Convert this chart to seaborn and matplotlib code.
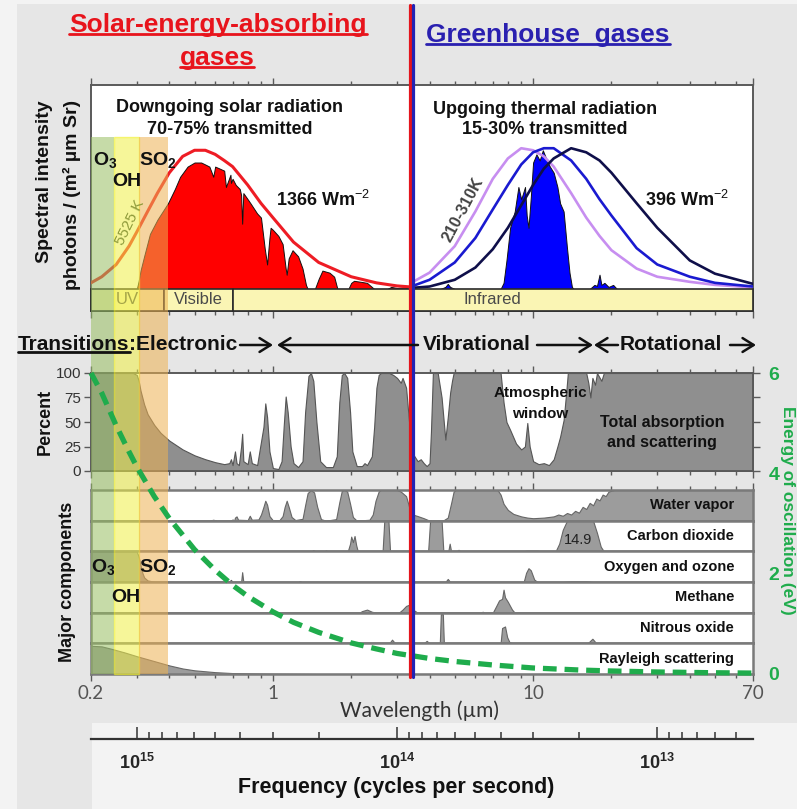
import numpy as np
import pandas as pd
import matplotlib
matplotlib.use("Agg")
import matplotlib.pyplot as plt
import seaborn as sns
from matplotlib.patches import Rectangle, FancyArrowPatch
from matplotlib.lines import Line2D
from matplotlib.ticker import FixedLocator, FixedFormatter, NullFormatter
from matplotlib.transforms import blended_transform_factory

# ---------------- data ----------------
# 5525 K black-body envelope (normalised photon intensity)
bb_lam = [0.2, 0.22, 0.25, 0.28, 0.3, 0.33, 0.36, 0.4, 0.45, 0.5, 0.55, 0.6, 0.65, 0.7, 0.8, 0.9, 1.0, 1.2, 1.5, 2.0, 2.5, 3.0, 3.38]
bb_val = [0.03, 0.06, 0.12, 0.21, 0.28, 0.38, 0.47, 0.57, 0.65, 0.68, 0.68, 0.66, 0.63, 0.6, 0.51, 0.42, 0.35, 0.23, 0.13, 0.06, 0.03, 0.015, 0.01]
# transmitted solar radiation
sol_lam = [0.30, 0.305, 0.31, 0.32, 0.337, 0.36, 0.395, 0.42, 0.44, 0.47, 0.5, 0.53, 0.55, 0.57, 0.59, 0.6, 0.625, 0.65, 0.66, 0.687, 0.69, 0.7, 0.72, 0.746, 0.755, 0.762, 0.77, 0.79, 0.82, 0.87, 0.9, 0.93, 0.95, 0.97, 0.98, 1.0, 1.05, 1.09, 1.12, 1.13, 1.15, 1.19, 1.25, 1.3, 1.34, 1.36, 1.45, 1.5, 1.55, 1.65, 1.72, 1.77, 1.95, 2.0, 2.05, 2.18, 2.3, 2.4, 2.45, 2.75, 2.85, 3.0, 3.2, 3.35]
sol_val = [0.0, 0.04, 0.09, 0.16, 0.27, 0.34, 0.42, 0.49, 0.55, 0.6, 0.62, 0.62, 0.61, 0.6, 0.55, 0.6, 0.59, 0.58, 0.5, 0.56, 0.52, 0.54, 0.51, 0.49, 0.46, 0.32, 0.47, 0.45, 0.42, 0.37, 0.35, 0.2, 0.12, 0.25, 0.3, 0.29, 0.26, 0.22, 0.1, 0.07, 0.15, 0.19, 0.16, 0.1, 0.02, 0.0, 0.0, 0.05, 0.09, 0.08, 0.06, 0.0, 0.0, 0.03, 0.04, 0.035, 0.03, 0.01, 0.0, 0.0, 0.01, 0.005, 0.008, 0.0]
# thermal emission envelopes 210 K / 260 K / 310 K
th_lam = [3.4, 4, 5, 6, 7, 8, 9, 10, 11, 12, 14, 16, 18, 20, 25, 30, 40, 50, 70]
th_210 = [0.03, 0.08, 0.21, 0.38, 0.54, 0.64, 0.69, 0.68, 0.65, 0.6, 0.47, 0.35, 0.26, 0.19, 0.1, 0.06, 0.035, 0.02, 0.008]
th_260 = [0.012, 0.045, 0.13, 0.25, 0.39, 0.51, 0.61, 0.67, 0.69, 0.69, 0.63, 0.54, 0.44, 0.36, 0.2, 0.12, 0.06, 0.03, 0.012]
th_310 = [0.005, 0.012, 0.045, 0.105, 0.195, 0.3, 0.41, 0.51, 0.59, 0.64, 0.69, 0.67, 0.63, 0.57, 0.42, 0.3, 0.14, 0.075, 0.025]
# transmitted thermal radiation
tr_lam = [4.4, 4.6, 4.7, 4.8, 5.0, 7.5, 7.7, 7.9, 8.16, 8.5, 8.78, 9.0, 9.31, 9.45, 9.6, 9.8, 10.0, 10.3, 10.6, 10.9, 11.3, 11.6, 12.0, 12.4, 12.7, 13.1, 13.5, 13.8, 14.1, 14.3, 16.5, 17.2, 17.6, 18.0, 18.3, 18.8, 19.5, 20.3, 21.0]
tr_val = [0, 0.01, 0.025, 0.01, 0, 0, 0.03, 0.14, 0.3, 0.38, 0.5, 0.44, 0.5, 0.36, 0.3, 0.45, 0.62, 0.66, 0.63, 0.68, 0.63, 0.6, 0.57, 0.5, 0.42, 0.38, 0.2, 0.08, 0.01, 0, 0, 0.02, 0.015, 0.07, 0.02, 0.03, 0.01, 0.02, 0]
# total absorption and scattering (%)
tot_lam = [0.2, 0.29, 0.30, 0.305, 0.31, 0.32, 0.33, 0.35, 0.37, 0.4, 0.45, 0.5, 0.55, 0.6, 0.65, 0.68, 0.69, 0.70, 0.715, 0.725, 0.74, 0.755, 0.762, 0.77, 0.8, 0.815, 0.83, 0.87, 0.89, 0.92, 0.935, 0.95, 0.97, 1.0, 1.05, 1.08, 1.10, 1.12, 1.14, 1.17, 1.2, 1.25, 1.3, 1.33, 1.37, 1.40, 1.43, 1.47, 1.52, 1.6, 1.7, 1.76, 1.8, 1.84, 1.88, 1.93, 1.98, 2.02, 2.1, 2.2, 2.25, 2.3, 2.4, 2.45, 2.5, 2.55, 2.6, 2.8, 2.9, 3.0, 3.1, 3.15, 3.25, 3.35, 3.4, 3.5, 3.6, 3.7, 3.8, 3.9, 4.0, 4.05, 4.12, 4.3, 4.45, 4.6, 4.7, 4.8, 4.88, 4.95, 7.5, 7.7, 7.9, 8.16, 8.6, 9.0, 9.3, 9.5, 9.7, 10.0, 10.5, 11.0, 11.5, 12.0, 12.4, 12.7, 13.1, 13.4, 13.6, 16.0, 16.3, 16.6, 16.9, 17.3, 17.6, 18.3, 18.7, 70]
tot_val = [100, 100, 98, 92, 82, 68, 58, 47, 39, 31, 22, 16, 12, 9, 7, 8, 12, 6, 20, 8, 6, 25, 38, 10, 7, 20, 8, 6, 22, 45, 69, 55, 20, 3, 2, 10, 45, 76, 60, 25, 8, 4, 10, 60, 97, 100, 92, 50, 10, 4, 4, 15, 70, 98, 100, 95, 60, 20, 5, 5, 8, 6, 15, 45, 85, 98, 100, 100, 98, 95, 90, 95, 85, 45, 20, 15, 10, 12, 8, 5, 8, 40, 100, 100, 75, 32, 55, 80, 92, 100, 100, 70, 50, 42, 28, 22, 25, 49, 25, 10, 7, 8, 6, 12, 25, 35, 52, 80, 100, 100, 90, 75, 95, 88, 100, 92, 100, 100]
# major components (% within each strip)
h2o_lam = [0.2, 0.57, 0.59, 0.61, 0.69, 0.70, 0.71, 0.715, 0.725, 0.735, 0.8, 0.815, 0.83, 0.88, 0.9, 0.92, 0.935, 0.95, 0.97, 1.0, 1.06, 1.09, 1.11, 1.13, 1.15, 1.18, 1.22, 1.3, 1.33, 1.36, 1.40, 1.44, 1.48, 1.53, 1.6, 1.75, 1.8, 1.84, 1.88, 1.93, 1.98, 2.03, 2.1, 2.35, 2.42, 2.48, 2.55, 2.6, 3.0, 3.1, 3.25, 3.35, 3.45, 3.6, 3.8, 3.95, 4.1, 4.5, 4.7, 4.85, 4.95, 5.05, 7.3, 7.5, 7.7, 8.0, 8.4, 9.0, 9.5, 10.0, 11.0, 12.0, 12.5, 13.0, 13.5, 14.0, 14.5, 15.0, 15.5, 16.0, 16.5, 17.0, 17.5, 18.0, 18.5, 19.0, 19.5, 20.5, 70]
h2o_val = [0, 0, 3, 0, 0, 4, 0, 10, 14, 3, 2, 16, 3, 4, 20, 45, 65, 52, 15, 1, 2, 15, 45, 65, 45, 12, 2, 6, 50, 90, 100, 92, 45, 5, 0, 5, 60, 97, 100, 95, 55, 12, 0, 3, 20, 65, 95, 100, 100, 95, 80, 40, 20, 15, 8, 2, 0, 0, 10, 60, 95, 100, 100, 85, 55, 35, 22, 14, 10, 8, 10, 14, 20, 16, 25, 20, 32, 26, 45, 38, 58, 50, 72, 66, 85, 80, 95, 100, 100]
co2_lam = [0.2, 1.41, 1.43, 1.45, 1.58, 1.6, 1.62, 1.94, 1.98, 2.0, 2.03, 2.06, 2.09, 2.12, 2.64, 2.68, 2.78, 2.82, 3.95, 4.02, 4.45, 4.52, 4.72, 4.78, 4.84, 5.1, 5.17, 5.24, 9.2, 9.4, 10.4, 10.6, 12.2, 12.6, 13.0, 13.5, 17.0, 17.6, 18.2, 18.7, 70]
co2_val = [0, 0, 4, 0, 0, 3, 0, 0, 25, 48, 30, 50, 20, 0, 0, 100, 100, 0, 0, 100, 100, 0, 0, 25, 0, 0, 5, 0, 0, 2, 2, 0, 0, 25, 70, 100, 100, 60, 15, 0, 0]
o3_lam = [0.2, 0.30, 0.305, 0.31, 0.315, 0.32, 0.33, 0.35, 0.45, 0.6, 0.68, 0.69, 0.70, 0.755, 0.762, 0.77, 1.25, 1.27, 1.29, 4.6, 4.7, 4.8, 9.2, 9.4, 9.6, 9.8, 10.1, 10.4, 13, 14, 16, 17, 70]
o3_val = [100, 100, 82, 55, 30, 15, 5, 1, 0, 2, 2, 7, 0, 0, 32, 0, 0, 3, 0, 0, 10, 0, 0, 30, 45, 38, 8, 0, 0, 3, 3, 0, 0]
ch4_lam = [0.2, 2.15, 2.2, 2.3, 2.4, 2.5, 3.05, 3.15, 3.25, 3.32, 3.45, 3.6, 6.3, 6.4, 6.5, 7.0, 7.2, 7.4, 7.6, 7.7, 7.8, 8.0, 8.3, 8.5, 70]
ch4_val = [0, 0, 5, 10, 3, 0, 0, 10, 22, 25, 10, 0, 0, 3, 0, 0, 20, 40, 45, 75, 50, 35, 10, 0, 0]
n2o_lam = [0.2, 2.8, 2.87, 2.95, 3.8, 3.9, 4.0, 4.38, 4.42, 4.5, 4.54, 7.5, 7.6, 7.8, 7.95, 8.1, 8.3, 16.2, 16.9, 17.5, 70]
n2o_val = [0, 0, 12, 0, 0, 8, 0, 0, 95, 95, 0, 0, 50, 55, 20, 5, 0, 0, 15, 0, 0]
ray_lam = [0.2, 0.22, 0.24, 0.27, 0.3, 0.35, 0.4, 0.45, 0.5, 0.6, 0.7, 0.8, 1.0, 1.5, 70]
ray_val = [92, 90, 82, 70, 58, 42, 28, 18, 12, 6, 3, 2, 1, 0, 0]
comp_names = ["Water vapor", "Carbon dioxide", "Oxygen and ozone", "Methane", "Nitrous oxide", "Rayleigh scattering"]
# energy of oscillation (eV)
en_lam = [0.2, 0.22, 0.25, 0.28, 0.3, 0.35, 0.4, 0.5, 0.6, 0.7, 0.8, 1.0, 1.2, 1.5, 2, 2.5, 3, 4, 5, 7, 10, 15, 20, 30, 50, 70]
en_val = [6.0, 5.6, 4.95, 4.43, 4.13, 3.54, 3.1, 2.48, 2.07, 1.77, 1.55, 1.24, 1.03, 0.83, 0.62, 0.5, 0.41, 0.31, 0.25, 0.18, 0.12, 0.08, 0.06, 0.04, 0.025, 0.018]
# absorber bands (wavelength edges, um): O3 | OH | SO2
gas_edges = [0.2, 0.245, 0.305, 0.395]
gas_names = [r"$\mathbf{O_3}$", "OH", r"$\mathbf{SO_2}$"]
# spectral regions of the colour strip
reg_edges = [0.2, 0.38, 0.70, 70]
reg_names = ["UV", "Visible", "Infrared"]
wl_ticks = [0.2, 1, 10, 70]
wl_labels = ["0.2", "1", "10", "70"]
freq_major = [1e15, 1e14, 1e13]
freq_minor = [9e14, 8e14, 7e14, 6e14, 5e14, 4e14, 3e14, 2e14, 9e13, 8e13, 7e13, 6e13, 5e13, 4e13, 3e13, 2e13, 9e12, 8e12, 7e12, 6e12, 5e12]
freq_labels = [r"$\mathbf{10^{15}}$", r"$\mathbf{10^{14}}$", r"$\mathbf{10^{13}}$"]
C_UM = 2.998e14  # speed of light in um/s

# ---------------- style ----------------
sns.set_theme(style="white")
plt.rcParams["font.family"] = ["Liberation Sans", "DejaVu Sans"]
plt.rcParams["mathtext.fontset"] = "custom"
plt.rcParams["mathtext.rm"] = "Liberation Sans"
plt.rcParams["mathtext.bf"] = "Liberation Sans:bold"
plt.rcParams["mathtext.it"] = "Liberation Sans:italic"

W, H = 797, 809
fig = plt.figure(figsize=(W / 100, H / 100), dpi=100)
fig.patch.set_facecolor("#f3f3f3")

def frect(x0, y0, x1, y1):
    return [x0 / W, 1 - y1 / H, (x1 - x0) / W, (y1 - y0) / H]

def T(x, y, s, **kw):
    kw.setdefault("ha", "center")
    kw.setdefault("va", "center")
    return fig.text(x / W, 1 - y / H, s, **kw)

# background panels
fig.add_artist(Rectangle((17 / W, 1 - 723 / H), (W - 17) / W, 719 / H, transform=fig.transFigure,
                         facecolor="#e6e6e6", edgecolor="none", zorder=-5))
fig.add_artist(Rectangle((17 / W, 0), 75 / W, (H - 723) / H, transform=fig.transFigure,
                         facecolor="#e6e6e6", edgecolor="none", zorder=-5))

XL, XR = 91, 753
SPINE = "#5a5a5a"
minor_t = [0.3, 0.4, 0.5, 0.6, 0.7, 0.8, 0.9, 2, 3, 4, 5, 6, 7, 8, 9, 20, 30, 40, 50, 60]

def style_x(ax, top=False, bottom=False, labels=False):
    ax.set_xscale("log")
    ax.set_xlim(0.2, 70)
    ax.xaxis.set_major_locator(FixedLocator(wl_ticks))
    ax.xaxis.set_minor_locator(FixedLocator(minor_t))
    ax.xaxis.set_major_formatter(FixedFormatter(wl_labels) if labels else NullFormatter())
    ax.xaxis.set_minor_formatter(NullFormatter())
    ax.tick_params(axis="x", which="both", direction="out", top=top, bottom=bottom,
                   labelbottom=labels, labeltop=False, color=SPINE, width=1)
    ax.tick_params(axis="x", which="major", length=5)
    ax.tick_params(axis="x", which="minor", length=3)
    for s in ax.spines.values():
        s.set_color(SPINE)
        s.set_linewidth(1.4)

# ---------------- top panel ----------------
ax_top = fig.add_axes(frect(XL, 85, XR, 311))
ax_top.set_facecolor("white")
YB = -0.108
style_x(ax_top, top=True, bottom=True)
ax_top.set_ylim(YB, 1.0)
ax_top.set_yticks([])
ax_top.fill_between(sol_lam, sol_val, 0, color="#ff0000", edgecolor="#111111", linewidth=0.7, zorder=2)
sns.lineplot(x=bb_lam, y=bb_val, ax=ax_top, color="#ee1c24", linewidth=2.2, zorder=3)
ax_top.fill_between(tr_lam, tr_val, 0, color="#0000ff", edgecolor="#111111", linewidth=0.7, zorder=2)
sns.lineplot(x=th_lam, y=th_210, ax=ax_top, color="#c78ef0", linewidth=1.9, zorder=3)
sns.lineplot(x=th_lam, y=th_260, ax=ax_top, color="#1a1ad0", linewidth=1.9, zorder=3)
sns.lineplot(x=th_lam, y=th_310, ax=ax_top, color="#0f0f4a", linewidth=1.9, zorder=3)
for i, name in enumerate(reg_names):
    a, b = reg_edges[i], reg_edges[i + 1]
    ax_top.add_patch(Rectangle((a, YB), b - a, -YB, facecolor="#faf5b4", edgecolor="#2a2a2a",
                               linewidth=1.2, zorder=4, clip_on=False))
    xt = np.sqrt(a * b) if i < 2 else 7.0
    ax_top.text(xt, YB / 2, name, ha="center", va="center", fontsize=12, color="#4a4a4a", zorder=5)
ax_top.set_xlabel("")
ax_top.set_ylabel("")

# ---------------- percent panel ----------------
ax_pct = fig.add_axes(frect(XL, 373, XR, 471))
ax_pct.set_facecolor("white")
style_x(ax_pct, top=True, bottom=True)
ax_pct.fill_between(tot_lam, tot_val, 0, color="#8f8f8f", edgecolor="#555555", linewidth=0.8)
ax_pct.set_ylim(0, 100)
ax_pct.set_yticks([0, 25, 50, 75, 100])
ax_pct.tick_params(axis="y", which="both", left=True, right=True, direction="out", length=5,
                   width=1, color=SPINE, labelsize=11, labelcolor="#333333", pad=2)

# ---------------- component strips ----------------
comp_data = [(h2o_lam, h2o_val), (co2_lam, co2_val), (o3_lam, o3_val),
             (ch4_lam, ch4_val), (n2o_lam, n2o_val), (ray_lam, ray_val)]
top0, bot0 = 490, 674
hstep = (bot0 - top0) / 6
comp_axes = []
for i, (lam, val) in enumerate(comp_data):
    y0 = top0 + i * hstep
    ax = fig.add_axes(frect(XL, y0, XR, y0 + hstep))
    ax.set_facecolor("white")
    style_x(ax, top=(i == 0), bottom=(i == 5), labels=(i == 5))
    for s in ax.spines.values():
        s.set_color("#7a7a7a")
        s.set_linewidth(1.8)
    ax.fill_between(lam, val, 0, color="#9c9c9c", edgecolor="#666666", linewidth=0.8)
    ax.set_ylim(0, 100)
    ax.set_yticks([])
    comp_axes.append(ax)
axb = comp_axes[-1]
axb.tick_params(axis="x", which="major", labelsize=13.5, labelcolor="#555555", pad=3)
for lbl in axb.get_xticklabels():
    lbl.set_fontfamily(["Lato", "DejaVu Sans"])

# ---------------- energy axis ----------------
GREEN = "#1fac4c"
ax_en = fig.add_axes(frect(XL, 373, XR, 674), zorder=4)
ax_en.set_facecolor("none")
ax_en.set_xscale("log")
ax_en.set_xlim(0.2, 70)
ax_en.set_ylim(0, 6)
sns.lineplot(x=en_lam, y=en_val, ax=ax_en, color=GREEN, linewidth=3.8,
             linestyle=(0, (2.6, 1.5)), clip_on=False)
for s in ax_en.spines.values():
    s.set_visible(False)
ax_en.set_xticks([])
ax_en.xaxis.set_minor_locator(FixedLocator([]))
ax_en.yaxis.tick_right()
ax_en.set_yticks([0, 2, 4, 6])
ax_en.tick_params(axis="y", right=True, left=False, length=0, pad=11, labelsize=14, labelcolor=GREEN)
for lbl in ax_en.get_yticklabels():
    lbl.set_fontweight("bold")
ax_en.set_xlabel("")
ax_en.set_ylabel("")

# ---------------- frequency axis ----------------
ax_f = fig.add_axes(frect(XL, 712, XR, 739))
ax_f.set_facecolor("none")
ax_f.set_xscale("log")
ax_f.set_xlim(0.2, 70)
ax_f.set_yticks([])
for k in ["top", "left", "right"]:
    ax_f.spines[k].set_visible(False)
ax_f.spines["bottom"].set_color("#333333")
ax_f.spines["bottom"].set_linewidth(1.6)
ax_f.xaxis.set_major_locator(FixedLocator([C_UM / f for f in freq_major]))
ax_f.xaxis.set_major_formatter(FixedFormatter(freq_labels))
ax_f.xaxis.set_minor_locator(FixedLocator([C_UM / f for f in freq_minor]))
ax_f.xaxis.set_minor_formatter(NullFormatter())
ax_f.tick_params(axis="x", which="both", direction="in", bottom=True, top=False,
                 color="#333333", width=1.1)
ax_f.tick_params(axis="x", which="major", length=9, pad=10, labelsize=13)
ax_f.tick_params(axis="x", which="minor", length=5)

# ---------------- absorber overlay bands ----------------
btr = blended_transform_factory(ax_top.transData, fig.transFigure)
band_cols = ["#98bf62", "#f0f046", "#eeb252"]
for i in range(3):
    a, b = gas_edges[i], gas_edges[i + 1]
    fig.add_artist(Rectangle((a, 1 - 674 / H), b - a, (674 - 137) / H, transform=btr,
                             facecolor=band_cols[i], alpha=0.55,
                             edgecolor="#f2f21e" if i == 1 else "none", linewidth=1.0, zorder=2))

# ---------------- dividing line ----------------
fig.add_artist(Line2D([410 / W, 410 / W], [1 - 5 / H, 1 - 677 / H], color="#e4141c", lw=2.3,
                      transform=fig.transFigure, zorder=6))
fig.add_artist(Line2D([413 / W, 413 / W], [1 - 5 / H, 1 - 677 / H], color="#2323b4", lw=2.3,
                      transform=fig.transFigure, zorder=6))

# ---------------- texts ----------------
RED, BLUE = "#e8141c", "#2a20b0"
t1 = T(218, 25, "Solar-energy-absorbing", color=RED, fontsize=19, fontweight="bold")
t2 = T(217, 58, "gases", color=RED, fontsize=19, fontweight="bold")
t3 = T(548, 35, "Greenhouse  gases", color=BLUE, fontsize=19, fontweight="bold")

T(230, 108, "Downgoing solar radiation", fontsize=13, fontweight="bold", color="#111111")
T(230, 129, "70-75% transmitted", fontsize=13, fontweight="bold", color="#111111")
T(545, 109, "Upgoing thermal radiation", fontsize=13, fontweight="bold", color="#111111")
T(545, 129, "15-30% transmitted", fontsize=13, fontweight="bold", color="#111111")
T(323, 200, r"1366 Wm$^{-2}$", fontsize=13, fontweight="bold", color="#111111")
T(687, 200, r"396 Wm$^{-2}$", fontsize=13, fontweight="bold", color="#111111")
T(130, 223, "5525 K", fontsize=11, rotation=64, color="#8e9a3a")
T(463, 210, "210-310K", fontsize=11.5, rotation=62, color="#444444", fontweight="bold")

for (x, y), s in zip([(105, 160), (127, 181), (158, 160)], gas_names):
    T(x, y, s, fontsize=14, fontweight="bold", color="#111111", zorder=7)
for (x, y), s in zip([(103, 567), (126, 598), (158, 567)], gas_names):
    T(x, y, s, fontsize=14, fontweight="bold", color="#111111", zorder=7)

T(45, 100, "Spectral intensity", rotation=90, va="top", fontsize=14, fontweight="bold", color="#111111")
T(72, 100, "photons / (m² µm Sr)", rotation=90, va="top", fontsize=14, fontweight="bold", color="#111111")
T(45, 422, "Percent", rotation=90, fontsize=13, fontweight="bold", color="#111111")
T(68, 582, "Major components", rotation=90, fontsize=13, fontweight="bold", color="#111111")

t4 = T(18, 344, "Transitions", ha="left", fontsize=15, fontweight="bold", color="#111111")
T(129, 344, ":Electronic", ha="left", fontsize=15, fontweight="bold", color="#111111")
T(423, 344, "Vibrational", ha="left", fontsize=15, fontweight="bold", color="#111111")
T(620, 344, "Rotational", ha="left", fontsize=15, fontweight="bold", color="#111111")

def arrow(x0, x1, y=345):
    fig.add_artist(FancyArrowPatch((x0 / W, 1 - y / H), (x1 / W, 1 - y / H), transform=fig.transFigure,
                                   arrowstyle="->,head_length=0.4,head_width=0.25", mutation_scale=20,
                                   lw=1.8, color="#111111", shrinkA=0, shrinkB=0, zorder=7))
arrow(240, 273)
arrow(418, 277)
arrow(537, 593)
arrow(618, 594)
arrow(730, 756)

T(540, 393, "Atmospheric", fontsize=11, fontweight="bold", color="#111111")
T(540, 414, "window", fontsize=11, fontweight="bold", color="#111111")
T(662, 423, "Total absorption", fontsize=11.5, fontweight="bold", color="#111111")
T(662, 443, "and scattering", fontsize=11.5, fontweight="bold", color="#111111")

for i, name in enumerate(comp_names):
    yc = top0 + (i + 0.5) * hstep
    T(734, yc, name, ha="right", fontsize=10.5, fontweight="bold", color="#111111")
T(578, 540, "14.9", fontsize=10.5, color="#222222")

T(420, 711, "Wavelength (µm)", fontsize=15, color="#333333", family=["Lato", "DejaVu Sans"])
T(396, 787, "Frequency (cycles per second)", fontsize=15.5, fontweight="bold", color="#111111")
T(787, 510, "Energy of oscillation (eV)", rotation=270, fontsize=12.5, fontweight="bold", color=GREEN)

# underlines
fig.canvas.draw()
rend = fig.canvas.get_renderer()
for t, col, off in [(t1, RED, 3), (t2, RED, 3), (t3, BLUE, 3), (t4, "#111111", 2)]:
    bb = t.get_window_extent(rend)
    yline = (bb.y0 + off) / fig.bbox.height
    fig.add_artist(Line2D([bb.x0 / fig.bbox.width, bb.x1 / fig.bbox.width], [yline, yline],
                          color=col, lw=2.0, transform=fig.transFigure, zorder=7))

fig.savefig("out.png", dpi=100, facecolor=fig.get_facecolor())
